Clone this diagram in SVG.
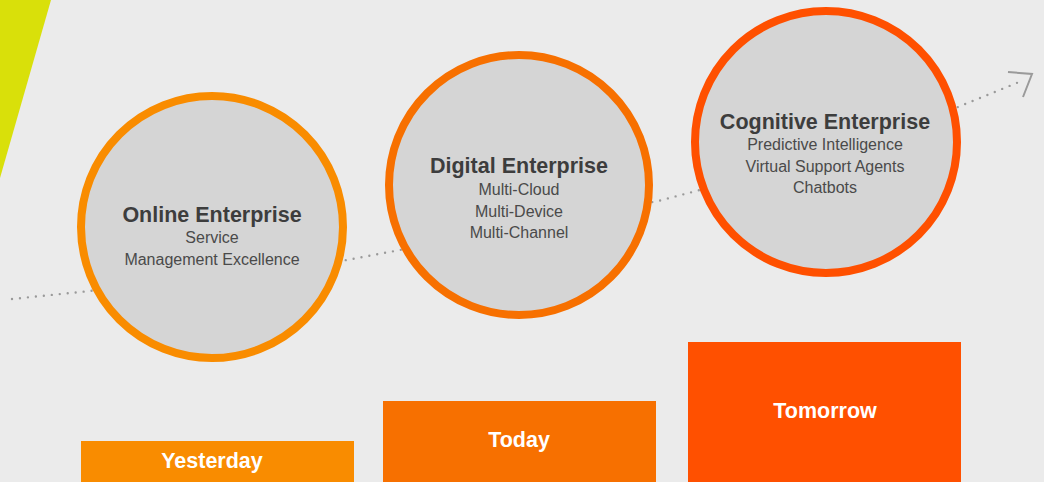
<svg xmlns="http://www.w3.org/2000/svg" width="1044" height="482" viewBox="0 0 1044 482">
  <style>
    .ring { fill: #d5d5d5; stroke-width: 8; }
    .title { font-family: "Liberation Sans", Arial, sans-serif; font-weight: bold; font-size: 21.5px; fill: #3d3d3d; text-anchor: middle; }
    .sub { font-family: "Liberation Sans", Arial, sans-serif; font-size: 16px; fill: #4a4a4a; text-anchor: middle; }
    .bar-label { font-family: "Liberation Sans", Arial, sans-serif; font-weight: bold; font-size: 21.5px; fill: #ffffff; text-anchor: middle; }
    .dots { fill: none; stroke: #9a9a9a; stroke-width: 2.4; stroke-linecap: round; stroke-dasharray: 0 8; }
  </style>
  <rect x="0" y="0" width="1044" height="482" fill="#ebebeb"/>
  <polygon points="0,0 51,0 0,178" fill="#d9e00a"/>

  <g id="connectors">
    <path class="dots" d="M12 299 L90 291 L347 260 L400 250 L658 201 L700 190 L958 107 L1024 80"/>
    <polyline points="1008,72 1032,74 1023,97" fill="none" stroke="#9a9a9a" stroke-width="2"/>
  </g>

  <g id="node-online">
    <circle class="ring" cx="212" cy="227" r="131" stroke="#f98c00"/>
    <text class="title" x="212" y="222">Online Enterprise</text>
    <text class="sub" x="212" y="243">Service</text>
    <text class="sub" x="212" y="265">Management Excellence</text>
  </g>

  <g id="node-digital">
    <circle class="ring" cx="519" cy="185" r="130" stroke="#f77000"/>
    <text class="title" x="519" y="173">Digital Enterprise</text>
    <text class="sub" x="519" y="195">Multi-Cloud</text>
    <text class="sub" x="519" y="217">Multi-Device</text>
    <text class="sub" x="519" y="238">Multi-Channel</text>
  </g>

  <g id="node-cognitive">
    <circle class="ring" cx="826" cy="142" r="131" stroke="#ff5000"/>
    <text class="title" x="825" y="129">Cognitive Enterprise</text>
    <text class="sub" x="825" y="150">Predictive Intelligence</text>
    <text class="sub" x="825" y="172">Virtual Support Agents</text>
    <text class="sub" x="825" y="193">Chatbots</text>
  </g>

  <g id="bar-yesterday">
    <rect x="81" y="441" width="273" height="41" fill="#f98c00"/>
    <text class="bar-label" x="212" y="468">Yesterday</text>
  </g>
  <g id="bar-today">
    <rect x="383" y="401" width="273" height="81" fill="#f77000"/>
    <text class="bar-label" x="519" y="447">Today</text>
  </g>
  <g id="bar-tomorrow">
    <rect x="688" y="342" width="273" height="140" fill="#ff5000"/>
    <text class="bar-label" x="825" y="418">Tomorrow</text>
  </g>
</svg>
